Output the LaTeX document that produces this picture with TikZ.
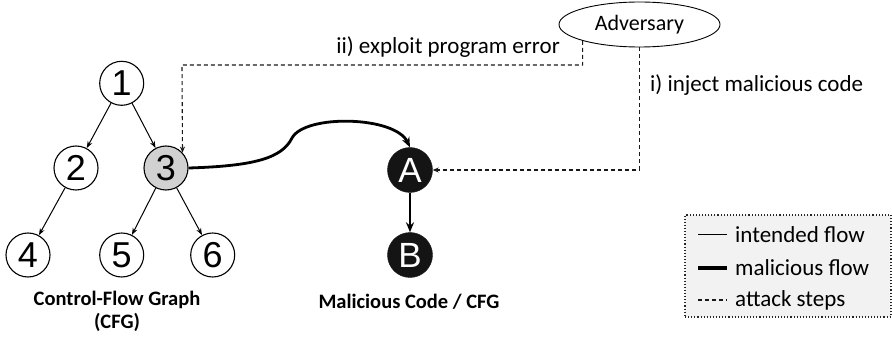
\documentclass[tikz,border=0pt]{standalone}
\usepackage{fontspec}
\setmainfont{Carlito}
\newfontfamily\arialf{Liberation Sans}
\usetikzlibrary{arrows.meta,shapes.geometric}
\begin{document}
\begin{tikzpicture}[x=1pt,y=-1pt,
  cfg/.style={circle,draw,line width=1.1pt,minimum size=44pt,inner sep=0pt,font=\arialf\fontsize{36}{36}\selectfont},
  mal/.style={circle,fill=black!92,draw=black!92,minimum size=45pt,inner sep=0pt,text=white,font=\arialf\fontsize{35}{35}\selectfont},
  flow/.style={line width=1pt,-{Stealth[length=7pt,width=5pt]}},
  malflow/.style={line width=2.8pt,-{Stealth[length=10pt,width=8pt]}},
  attack/.style={line width=1.1pt,draw=black!90,dash pattern=on 4pt off 3pt,-{Stealth[length=6pt,width=5pt]}},
  lbl/.style={font=\fontsize{23}{26}\selectfont},
  capstyle/.style={font=\bfseries\fontsize{20.5}{23}\selectfont,align=center},
  legtxt/.style={font=\fontsize{23}{25}\selectfont,anchor=west,inner sep=0pt}]
\useasboundingbox (0,0) rectangle (892,339);
% CFG nodes
\node[cfg] (n1) at (121.7,83.3) {1};
\node[cfg] (n2) at (76,168) {2};
\node[cfg,fill=black!18] (n3) at (166,168) {3};
\node[cfg] (n4) at (28,255) {4};
\node[cfg] (n5) at (121.7,255) {5};
\node[cfg] (n6) at (212.7,255) {6};
\draw[flow] (n1) -- (n2);
\draw[flow] (n1) -- (n3);
\draw[flow] (n2) -- (n4);
\draw[flow] (n3) -- (n5);
\draw[flow] (n3) -- (n6);
\node[capstyle] (capcfg) at (117,311) {Control-Flow Graph\\(CFG)};
% malicious code
\node[mal] (A) at (410,170) {A};
\node[mal] (B) at (410,255) {B};
\draw[malflow] (A) -- (B);
\node[capstyle] (capmal) at (409,302) {Malicious Code / CFG};
\draw[malflow] (n3.east) .. controls (255,166) and (282,158) .. (292,138) .. controls (305,114) and (395,116) .. (A.north);
% adversary
\node[ellipse,draw,line width=0.9pt,minimum width=161pt,minimum height=45pt,inner sep=0pt,font=\fontsize{22}{24}\selectfont] (adv) at (639.5,24.5) {Adversary};
\coordinate (k2) at (182,65);
\draw[attack] (adv.196) |- (k2) -- (n3.43);
\draw[attack] (adv.south) |- (A.east);
\node[lbl,anchor=east,inner sep=0pt] (t2) at (560,47) {ii) exploit program error};
\node[lbl,anchor=west,inner sep=0pt] (t1) at (650,85) {i) inject malicious code};
% legend
\node[draw=black!85,dotted,line width=1.1pt,fill=black!5,minimum width=206pt,minimum height=102pt,inner sep=0pt] (leg) at (788,266) {};
\coordinate (l1a) at (698,235); \coordinate (l1b) at (727,235);
\coordinate (l2a) at (698,268); \coordinate (l2b) at (727,268);
\coordinate (l3a) at (698,300); \coordinate (l3b) at (727,300);
\draw[line width=1pt] (l1a) -- (l1b);
\draw[line width=3.5pt] (l2a) -- (l2b);
\draw[line width=1.1pt,draw=black!90,dash pattern=on 4pt off 3pt] (l3a) -- (l3b);
\node[legtxt] (lt1) at (735,235) {intended flow};
\node[legtxt] (lt2) at (735,268) {malicious flow};
\node[legtxt] (lt3) at (735,300) {attack steps};
\end{tikzpicture}
\end{document}
